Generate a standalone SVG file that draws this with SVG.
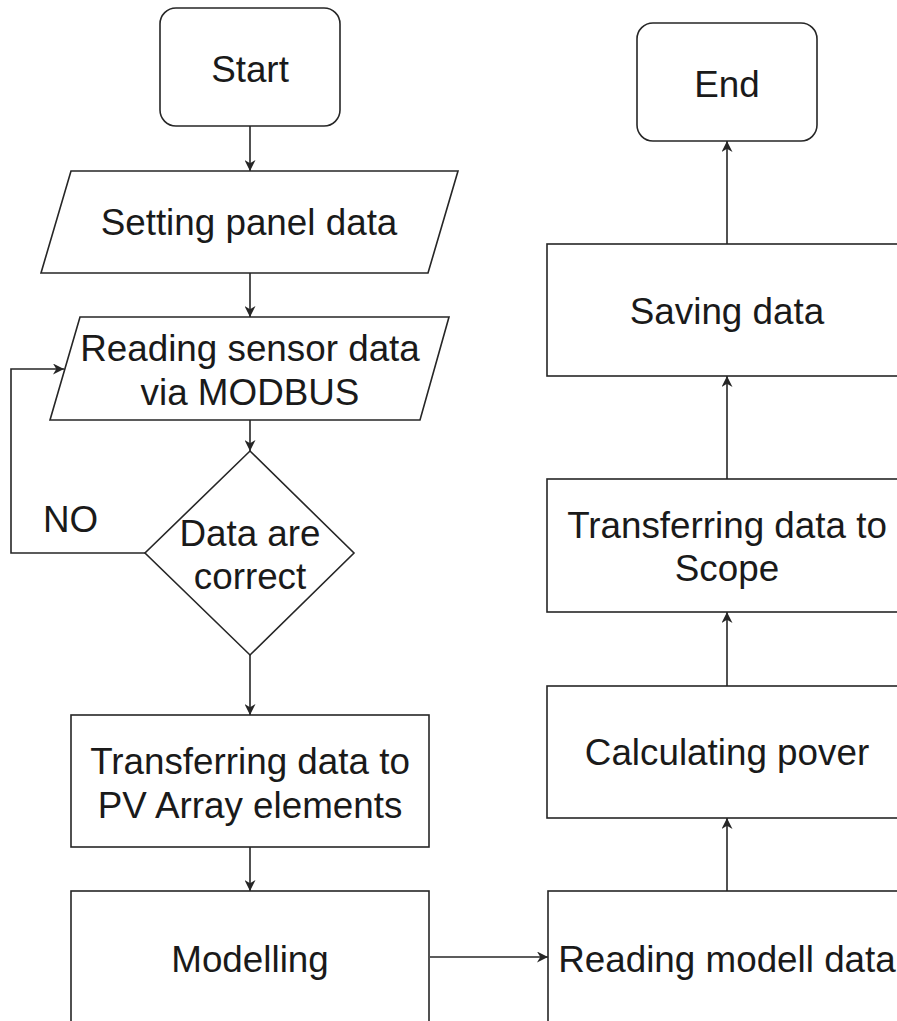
<svg xmlns="http://www.w3.org/2000/svg" width="897" height="1021" viewBox="0 0 897 1021">
  <style>
    .shape { fill: #ffffff; stroke: #262626; stroke-width: 1.6; }
    .edge { fill: none; stroke: #262626; stroke-width: 1.6; }
    .label { font-family: "Liberation Sans", Arial, sans-serif; font-size: 36.8px; fill: #1a1a1a; text-anchor: middle; }
    .free { text-anchor: start; }
  </style>
  <defs>
    <marker id="arrow" viewBox="0 0 10 10" refX="10" refY="5" markerWidth="11" markerHeight="11" markerUnits="userSpaceOnUse" orient="auto">
      <path d="M0,0 L10,5 L0,10 L3,5 Z" fill="#262626"/>
    </marker>
  </defs>
  <rect width="897" height="1021" fill="#ffffff"/>

  <!-- connectors -->
  <g id="connectors">
    <line class="edge" x1="250" y1="126" x2="250" y2="171" marker-end="url(#arrow)"/>
    <line class="edge" x1="250" y1="273" x2="250" y2="317" marker-end="url(#arrow)"/>
    <line class="edge" x1="250" y1="420" x2="250" y2="451" marker-end="url(#arrow)"/>
    <line class="edge" x1="250" y1="655" x2="250" y2="715" marker-end="url(#arrow)"/>
    <line class="edge" x1="250" y1="847" x2="250" y2="891" marker-end="url(#arrow)"/>
    <line class="edge" x1="430" y1="957" x2="548" y2="957" marker-end="url(#arrow)"/>
    <line class="edge" x1="727" y1="891" x2="727" y2="818" marker-end="url(#arrow)"/>
    <line class="edge" x1="727" y1="686" x2="727" y2="612" marker-end="url(#arrow)"/>
    <line class="edge" x1="727" y1="479" x2="727" y2="376" marker-end="url(#arrow)"/>
    <line class="edge" x1="727" y1="244" x2="727" y2="141" marker-end="url(#arrow)"/>
    <polyline class="edge" points="145,553 11,553 11,369 64,369" marker-end="url(#arrow)"/>
    <text class="label free" x="43" y="532">NO</text>
  </g>

  <!-- left column -->
  <g id="start">
    <rect class="shape" x="160" y="8" width="180" height="118" rx="16" ry="16"/>
    <text class="label" x="250" y="82">Start</text>
  </g>
  <g id="setting-panel-data">
    <polygon class="shape" points="71,171 458,171 428,273 41,273"/>
    <text class="label" x="249" y="235">Setting panel data</text>
  </g>
  <g id="reading-sensor-data">
    <polygon class="shape" points="80,317 449,317 420,420 50,420"/>
    <text class="label" x="250" y="361">Reading sensor data</text>
    <text class="label" x="250" y="405">via MODBUS</text>
  </g>
  <g id="data-check">
    <polygon class="shape" points="250,451 354,553 250,655 145,553"/>
    <text class="label" x="250" y="546">Data are</text>
    <text class="label" x="250" y="589">correct</text>
  </g>
  <g id="transfer-pv">
    <rect class="shape" x="71" y="715" width="358" height="132"/>
    <text class="label" x="250" y="774">Transferring data to</text>
    <text class="label" x="250" y="818">PV Array elements</text>
  </g>
  <g id="modelling">
    <rect class="shape" x="71" y="891" width="358" height="132"/>
    <text class="label" x="250" y="972">Modelling</text>
  </g>

  <!-- right column -->
  <g id="reading-modell-data">
    <rect class="shape" x="548" y="891" width="360" height="132"/>
    <text class="label" x="727" y="972">Reading modell data</text>
  </g>
  <g id="calculating-power">
    <rect class="shape" x="547" y="686" width="360" height="132"/>
    <text class="label" x="727" y="765">Calculating pover</text>
  </g>
  <g id="transfer-scope">
    <rect class="shape" x="547" y="479" width="360" height="133"/>
    <text class="label" x="727" y="538">Transferring data to</text>
    <text class="label" x="727" y="581">Scope</text>
  </g>
  <g id="saving-data">
    <rect class="shape" x="547" y="244" width="360" height="132"/>
    <text class="label" x="727" y="324">Saving data</text>
  </g>
  <g id="end">
    <rect class="shape" x="637" y="23" width="180" height="118" rx="16" ry="16"/>
    <text class="label" x="727" y="97">End</text>
  </g>
</svg>
